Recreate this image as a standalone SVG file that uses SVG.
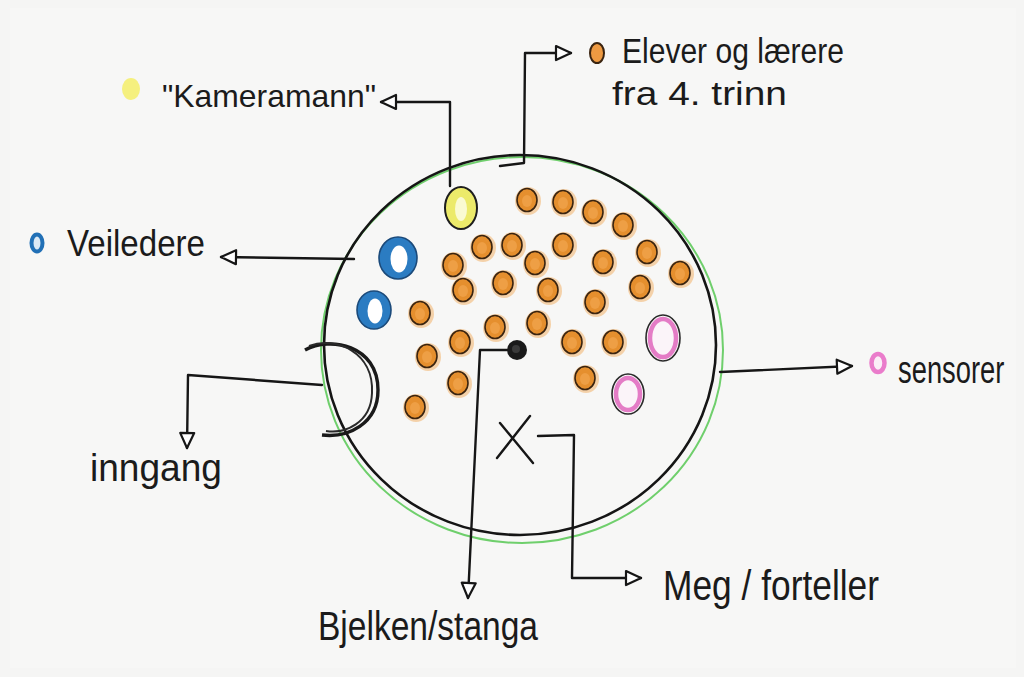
<svg xmlns="http://www.w3.org/2000/svg" width="1024" height="677" viewBox="0 0 1024 677">
<style>
.t{font-family:"Liberation Sans","DejaVu Sans",sans-serif;fill:#1b1b1b}
.ln{fill:none;stroke:#161616;stroke-width:2.4;stroke-linejoin:round;stroke-linecap:round}
.halo{fill:#f3b36a;opacity:.55}
.dot{fill:#e58f2e;stroke:#3a2410;stroke-width:1.6}
.hi{fill:#ee9f45}
.blue{fill:#2b7cc2;stroke:#1b4a7a;stroke-width:1.6}
.pink{fill:#fbf4f9;stroke:#e47cc6;stroke-width:4.5}
.pinko{fill:none;stroke:#2a2a2a;stroke-width:1.6}
</style>
<defs>
<marker id="arr" viewBox="-2 -2 20 18" refX="15" refY="7" markerWidth="20" markerHeight="18" markerUnits="userSpaceOnUse" orient="auto" overflow="visible">
<path d="M0,0 L15,7 L0,14 Z" fill="#ffffff" stroke="#161616" stroke-width="2.2" stroke-linejoin="round"/>
</marker>
<g id="od"><ellipse class="halo" cx="1" cy="1" rx="13" ry="14"/><ellipse class="dot" rx="10" ry="11.5"/><ellipse class="hi" cx="0" cy="1" rx="5" ry="6"/></g>
</defs>
<rect width="1024" height="677" fill="#f5f5f4"/>
<rect x="10" y="8" width="1006" height="660" fill="#f7f7f6"/>

<g id="rom">
<ellipse cx="522" cy="350" rx="201" ry="193" fill="none" stroke="#6fcf6c" stroke-width="2"/>
<ellipse cx="520" cy="345" rx="196" ry="190" fill="none" stroke="#151515" stroke-width="2.6"/>
</g>

<g id="connectors">
<path class="ln" d="M450,186 L450,102 L381,102" marker-end="url(#arr)"/>
<path class="ln" d="M354,259 L221,257" marker-end="url(#arr)"/>
<path class="ln" d="M500,166 L524,163 L525,53 L571,53" marker-end="url(#arr)"/>
<path class="ln" d="M720,372 L852,366" marker-end="url(#arr)"/>
<path class="ln" d="M322,385 L188,375 L187,448" marker-end="url(#arr)"/>
<path class="ln" d="M507,350 L480,350 L468,598" marker-end="url(#arr)"/>
<path class="ln" d="M538,436 L574,435 L572,578 L641,578" marker-end="url(#arr)"/>
</g>

<g id="inngang-dor">
<path d="M305,350 C330,336 378,345 378,390 C378,424 348,438 322,435" fill="none" stroke="#1a1a1a" stroke-width="3.4"/>
<path d="M309,346 C336,336 374,352 372,393 C371,423 345,434 326,431" fill="none" stroke="#2a2a2a" stroke-width="2"/>
</g>

<g id="kameramann">
<ellipse cx="461" cy="208" rx="16" ry="21" fill="#ecea6a" stroke="#1e1e1e" stroke-width="2"/>
<ellipse cx="461" cy="209" rx="6" ry="12" fill="#fafad2"/>
</g>

<g id="veiledere">
<ellipse class="blue" cx="398" cy="258" rx="19" ry="21"/>
<ellipse cx="399" cy="259" rx="8.5" ry="13.5" fill="#ffffff"/>
<ellipse class="blue" cx="374" cy="310" rx="17" ry="19"/>
<ellipse cx="375" cy="311" rx="7.5" ry="12.5" fill="#ffffff"/>
</g>

<g id="sensorer">
<ellipse class="pinko" cx="663" cy="338" rx="17" ry="23"/>
<ellipse class="pink" cx="663" cy="338" rx="13" ry="19"/>
<ellipse class="pinko" cx="628" cy="394" rx="16" ry="20"/>
<ellipse class="pink" cx="628" cy="394" rx="12" ry="16"/>
</g>

<g id="elever">
<use href="#od" x="527" y="200"/><use href="#od" x="563" y="202"/><use href="#od" x="593" y="212"/><use href="#od" x="623" y="225"/>
<use href="#od" x="482" y="247"/><use href="#od" x="512" y="245"/><use href="#od" x="563" y="245"/><use href="#od" x="647" y="252"/>
<use href="#od" x="453" y="265"/><use href="#od" x="535" y="263"/><use href="#od" x="603" y="262"/><use href="#od" x="680" y="273"/>
<use href="#od" x="463" y="290"/><use href="#od" x="503" y="283"/><use href="#od" x="548" y="290"/><use href="#od" x="640" y="287"/>
<use href="#od" x="595" y="302"/><use href="#od" x="420" y="313"/><use href="#od" x="495" y="327"/><use href="#od" x="537" y="323"/>
<use href="#od" x="460" y="342"/><use href="#od" x="572" y="342"/><use href="#od" x="613" y="342"/><use href="#od" x="427" y="356"/>
<use href="#od" x="458" y="383"/><use href="#od" x="585" y="378"/><use href="#od" x="415" y="407"/>
</g>

<g id="bjelken">
<circle cx="517" cy="350" r="10" fill="#1a1a1a"/>
<circle cx="516" cy="349" r="4" fill="#3a3a3a"/>
</g>

<g id="meg">
<path class="ln" d="M500,423 L533,463 M497,458 L530,416"/>
</g>

<g id="labels">
<ellipse cx="131" cy="89" rx="9" ry="11" fill="#f5f07e"/>
<text class="t" x="162" y="107" font-size="32" textLength="214" lengthAdjust="spacingAndGlyphs">"Kameramann"</text>

<ellipse cx="37" cy="243" rx="5.5" ry="8.5" fill="#dbe9f5" stroke="#2170b6" stroke-width="4"/>
<text class="t" x="67" y="256" font-size="36" textLength="138" lengthAdjust="spacingAndGlyphs">Veiledere</text>

<ellipse cx="597" cy="53" rx="7" ry="10" fill="#ee9a42" stroke="#3a2410" stroke-width="2"/>
<text class="t" x="622" y="63" font-size="35" textLength="222" lengthAdjust="spacingAndGlyphs">Elever og lærere</text>
<text class="t" x="612" y="105" font-size="33" textLength="175" lengthAdjust="spacingAndGlyphs">fra 4. trinn</text>

<ellipse cx="878" cy="363" rx="6.5" ry="9" fill="#fbeef7" stroke="#ea7ccb" stroke-width="4.5"/>
<text class="t" transform="translate(898,383) scale(0.72,1)" x="0" y="0" font-size="38">sensorer</text>

<text class="t" x="90" y="481" font-size="38" textLength="132" lengthAdjust="spacingAndGlyphs">inngang</text>

<text class="t" x="318" y="640" font-size="40" textLength="220" lengthAdjust="spacingAndGlyphs">Bjelken/stanga</text>

<text class="t" x="663" y="600" font-size="42" textLength="216" lengthAdjust="spacingAndGlyphs">Meg / forteller</text>
</g>
</svg>
